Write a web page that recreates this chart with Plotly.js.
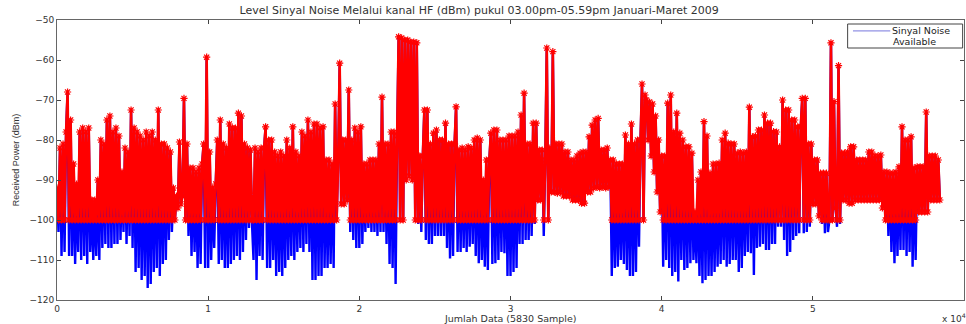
<!DOCTYPE html>
<html>
<head>
<meta charset="utf-8">
<script src="https://cdn.plot.ly/plotly-3.0.1.min.js"></script>
<style>html,body{margin:0;padding:0;background:#fff;}#chart{width:966px;height:324px;}</style>
</head>
<body>
<div id="chart"></div>
<script>
// Received noise level (dBm), one reading per 100 samples
const signalDbm = [
-92,-103,-82,-109,-81,-108,-78,-68,-109,-75,
-109,-86,-111,-91,-108,-78,-110,-77,-109,-78,
-111,-77,-108,-95,-110,-95,-109,-90,-110,-80,
-107,-81,-106,-75,-107,-74,-107,-78,-106,-77,
-106,-79,-105,-88,-103,-82,-106,-83,-104,-72.5,
-107,-77,-113,-78,-112,-79,-115,-80,-114,-78,
-117,-79,-116,-78,-113,-80,-112,-72.5,-114,-81,
-111,-81,-110,-82,-105,-83,-103,-92,-100,-94,
-97,-80.5,-96,-94,-69.6,-100,-81,-104,-87,-109,
-87,-108,-88,-112,-87,-111,-86,-81,-112,-59.3,
-112,-83,-110,-92,-107,-91,-80,-111,-75,-110,
-81,-112,-82,-112,-76,-111,-77,-110,-77,-109,
-73.3,-110,-74,-108,-81,-105,-82,-102,-82.5,-101,
-110,-82,-115,-83,-109,-82,-110,-82,-76.7,-112,
-80,-112,-80,-110,-83,-114,-84,-113,-83,-114,
-84,-112,-80,-110,-82,-109,-76.7,-110,-83,-108,
-84,-107,-78,-108,-79,-106,-75,-108,-78,-115,
-76,-115,-76,-114,-77,-114,-76.7,-112,-85,-112,
-85,-111,-86,-112,-71,-100,-85,-60.8,-96,-80,
-96,-80,-95,-67.5,-103,-80,-105,-77,-107,-78,
-107,-76.7,-106,-86,-103,-86,-102,-85,-103,-85,
-103,-85,-104,-81,-103,-69.3,-103,-81,-106,-81,
-111,-78,-112,-78,-116,-79,-54.2,-100,-54.5,-100,
-55,-90,-55,-89,-55.5,-90,-55.5,-100,-55.7,-101,
-84,-103,-84,-72.5,-105,-72.5,-106,-81,-106,-78.3,
-104,-77.5,-104,-80,-104,-80,-104,-75.8,-107,-81,
-109.6,-81,-109,-81,-71.7,-108,-82.5,-108,-82,-107,
-82.5,-108,-81.7,-106.7,-82,-106,-80,-109,-79.5,-110.8,
-80,-110,-90,-111.7,-85,-112.5,-85,-78.3,-111,-77.5,
-110.8,-77.5,-110,-80,-108,-80,-108.3,-80,-114,-79,
-114,-79,-113,-79,-112,-78,-106,-73.75,-106,-68.3,
-105,-81,-105,-81,-104,-75.8,-101,-75.8,-95,-82.5,
-95,-82.5,-104,-85,-57,-100,-82,-93,-57.9,-93,
-81,-93.3,-81,-93,-81,-94,-83,-94,-83,-94,
-85,-95,-85,-95,-84,-95,-83.3,-95.8,-83,-95.8,
-83,-93,-79.2,-93,-76.3,-92,-75,-91.7,-74.6,-92,
-82.5,-91.7,-82.5,-92,-82,-91.7,-85,-114,-85,-112,
-86,-111.7,-86,-110,-86,-111,-78.75,-112.5,-81,-114,
-76,-114,-81,-113,-80,-106.7,-80,-66,-100,-68.75,
-70,-80,-70.5,-84,-71,-88,-74,-93,-80,-98,
-84,-111.7,-84,-110,-70.8,-112,-68.75,-114,-78,-113,
-73.3,-115.4,-78.3,-110,-80,-112.5,-81.7,-112,-81.7,-110.8,
-83.3,-110,-98,-110.8,-90,-114,-88,-115.8,-75.4,-115,
-79,-114,-88.3,-114,-86,-113,-86,-111.7,-85.8,-111,
-80,-110,-78.3,-111.7,-80.8,-111,-81,-110,-81,-110,
-83.3,-113,-83,-112,-83.3,-109,-83,-108,-71.8,-108.3,
-79.2,-113.75,-79,-107,-77.5,-106.7,-77.5,-106,-73.75,-107.5,
-75.8,-107.5,-75.8,-106,-77.9,-106,-78,-101.7,-81.7,-101.7,
-70,-105,-72.5,-109,-72.5,-108,-75,-105,-75,-104,
-76.7,-103.3,-76.7,-69.6,-103.3,-69.6,-103,-81,-101.7,-81,
-96,-85,-96,-85,-99,-88.3,-101,-88.3,-103.3,-88.3,
-103,-100,-55.7,-100,-70.4,-97,-101.7,-61.4,-101,-83.3,
-95,-83.3,-95,-83,-95.8,-81.7,-95.8,-81.7,-95,-85,
-95,-85,-95,-85,-95,-85,-95,-83,-95,-83,
-95,-84,-95,-84,-95,-83.75,-97,-88,-100,-88,
-104,-88.3,-108,-88.3,-110.8,-88,-109,-86.7,-107.5,-76.7,
-107.5,-80,-109,-80,-108,-79.2,-111.7,-87,-110,-86.7,
-98,-86.7,-98,-86.7,-98,-73,-98,-84,-95,-84,
-95,-84,-95,-85,-95
];
const sampleStep = 100;            // samples between readings
const threshold = -100;            // "Available" floor (dBm)
const xTickVals = [0, 10000, 20000, 30000, 40000, 50000, 60000];
const xTickText = ['0', '1', '2', '3', '4', '5', '6'];
const yTickVals = [-120, -110, -100, -90, -80, -70, -60, -50];
const seriesNames = ['Sinyal Noise', 'Available'];
const titleText = 'Level Sinyal Noise Melalui kanal HF (dBm) pukul 03.00pm-05.59pm Januari-Maret 2009';
const xTitle = 'Jumlah Data (5830 Sample)';
const yTitle = 'Received Power (dBm)';

const sampleIdx = signalDbm.map((_, i) => i * sampleStep);
const available = signalDbm.map(v => Math.max(v, threshold));

const font = 'DejaVu Sans, Verdana, sans-serif';
const narrow = 'Liberation Sans Narrow, Arial Narrow, Liberation Sans, sans-serif';
const traces = [
  {x: sampleIdx, y: signalDbm, type: 'scatter', mode: 'lines', name: seriesNames[0],
   line: {color: '#0000ff', width: 2.4, simplify: false}, showlegend: false, hoverinfo: 'skip'},
  {x: sampleIdx, y: available, type: 'scatter', mode: 'lines+markers', name: seriesNames[1],
   line: {color: '#ff0000', width: 2.6, simplify: false},
   marker: {symbol: 'asterisk-open', size: 6, color: '#ff0000', line: {color: '#ff0000', width: 1.2}},
   showlegend: false, hoverinfo: 'skip'}
];

const axisCommon = {showline: true, linecolor: '#666', linewidth: 1, mirror: 'ticks', ticks: 'inside',
  ticklen: 4, tickcolor: '#444', showgrid: false, zeroline: false,
  tickfont: {family: font, size: 9, color: '#333'}};

const layout = {
  width: 966, height: 324,
  margin: {l: 57, r: 2, t: 20, b: 24},
  paper_bgcolor: '#fff', plot_bgcolor: '#fff',
  title: {text: titleText, font: {family: font, size: 11, color: '#333'},
          x: 0.496, xanchor: 'center', y: 0.968, yanchor: 'middle', yref: 'container'},
  xaxis: Object.assign({}, axisCommon, {range: [0, 60000], tickvals: xTickVals, ticktext: xTickText}),
  yaxis: Object.assign({}, axisCommon, {range: [-120, -50], tickvals: yTickVals,
          title: {text: yTitle, font: {family: narrow, size: 9, color: '#333'}, standoff: 8}}),
  shapes: [
    {type: 'rect', xref: 'paper', yref: 'paper', x0: 0.8717, x1: 0.9985, y0: 0.9, y1: 0.9857,
     line: {color: '#444', width: 1}, fillcolor: '#fff'},
    {type: 'line', xref: 'paper', yref: 'paper', x0: 0.8776, x1: 0.9187, y0: 0.961, y1: 0.961,
     line: {color: '#7777dd', width: 1}}
  ],
  annotations: [
    {text: xTitle, xref: 'paper', yref: 'paper', x: 0.5, y: -0.066, xanchor: 'center', yanchor: 'middle',
     showarrow: false, font: {family: font, size: 9.5, color: '#333'}},
    {text: seriesNames[0], xref: 'paper', yref: 'paper', x: 0.918, y: 0.963, xanchor: 'left', yanchor: 'middle',
     showarrow: false, font: {family: font, size: 9.5, color: '#222'}},
    {text: seriesNames[1], xref: 'paper', yref: 'paper', x: 0.92, y: 0.922, xanchor: 'left', yanchor: 'middle',
     showarrow: false, font: {family: font, size: 9.5, color: '#222'}},
    {text: 'x 10<sup>4</sup>', xref: 'paper', yref: 'paper', x: 0.973, y: -0.065, xanchor: 'left', yanchor: 'middle',
     showarrow: false, font: {family: font, size: 9, color: '#333'}}
  ]
};

Plotly.newPlot('chart', traces, layout, {staticPlot: true, displayModeBar: false});
</script>
</body>
</html>
